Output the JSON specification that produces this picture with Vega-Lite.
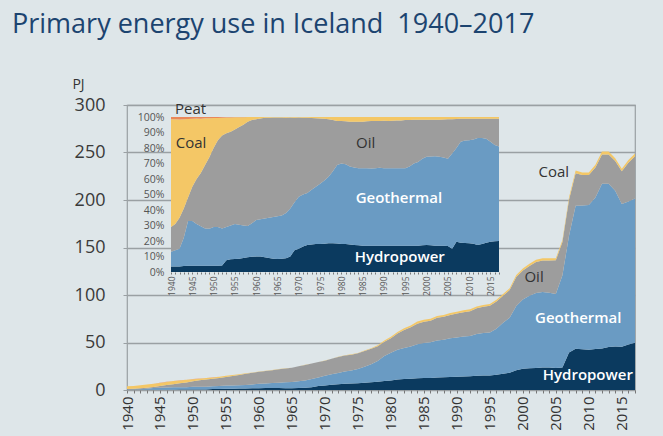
{
  "$schema": "https://vega.github.io/schema/vega-lite/v6.json",
  "width": 508,
  "height": 285,
  "autosize": {"type": "none"},
  "padding": {"left": 127, "top": 105, "right": 28, "bottom": 46},
  "background": "#dee6e9",
  "title": {
    "text": "Primary energy use in Iceland\u00a0 1940–2017",
    "anchor": "start",
    "frame": "group",
    "dx": -115,
    "dy": -13,
    "baseline": "alphabetic",
    "font": "Open Sans",
    "fontSize": 27,
    "fontWeight": "normal",
    "color": "#1c4470"
  },
  "config": {
    "font": "Open Sans",
    "view": {"stroke": "#9aa0a3", "strokeWidth": 1.2}
  },
  "datasets": {
    "ranks": [
      {"source": "Hydropower", "rank": 1},
      {"source": "Geothermal", "rank": 2},
      {"source": "Oil", "rank": 3},
      {"source": "Coal", "rank": 4},
      {"source": "Peat", "rank": 5}
    ],
    "energy": [
      {"year":1940,"Hydropower":0.14,"Geothermal":0.38,"Oil":0.64,"Coal":2.78,"Peat":0.06},
      {"year":1941,"Hydropower":0.15,"Geothermal":0.45,"Oil":0.73,"Coal":2.90,"Peat":0.06},
      {"year":1942,"Hydropower":0.18,"Geothermal":0.57,"Oil":1.0,"Coal":3.18,"Peat":0.08},
      {"year":1943,"Hydropower":0.22,"Geothermal":1.06,"Oil":1.10,"Coal":3.34,"Peat":0.08},
      {"year":1944,"Hydropower":0.27,"Geothermal":1.94,"Oil":1.01,"Coal":3.40,"Peat":0.09},
      {"year":1945,"Hydropower":0.30,"Geothermal":2.20,"Oil":1.67,"Coal":3.33,"Peat":0.09},
      {"year":1946,"Hydropower":0.34,"Geothermal":2.32,"Oil":2.49,"Coal":3.35,"Peat":0.09},
      {"year":1947,"Hydropower":0.38,"Geothermal":2.42,"Oil":3.28,"Coal":3.33,"Peat":0.10},
      {"year":1948,"Hydropower":0.41,"Geothermal":2.45,"Oil":4.18,"Coal":3.07,"Peat":0.09},
      {"year":1949,"Hydropower":0.43,"Geothermal":2.59,"Oil":4.97,"Coal":2.72,"Peat":0.09},
      {"year":1950,"Hydropower":0.46,"Geothermal":2.88,"Oil":5.87,"Coal":2.22,"Peat":0.08},
      {"year":1951,"Hydropower":0.48,"Geothermal":3.0,"Oil":6.72,"Coal":1.73,"Peat":0.07},
      {"year":1952,"Hydropower":0.53,"Geothermal":3.0,"Oil":7.56,"Coal":1.45,"Peat":0.06},
      {"year":1953,"Hydropower":1.0,"Geothermal":2.86,"Oil":8.05,"Coal":1.34,"Peat":0.05},
      {"year":1954,"Hydropower":1.15,"Geothermal":3.05,"Oil":8.47,"Coal":1.29,"Peat":0.04},
      {"year":1955,"Hydropower":1.26,"Geothermal":3.39,"Oil":9.15,"Coal":1.17,"Peat":0.03},
      {"year":1956,"Hydropower":1.34,"Geothermal":3.48,"Oil":9.95,"Coal":1.01,"Peat":0.02},
      {"year":1957,"Hydropower":1.49,"Geothermal":3.49,"Oil":10.79,"Coal":0.81,"Peat":0.02},
      {"year":1958,"Hydropower":1.66,"Geothermal":3.54,"Oil":11.78,"Coal":0.53,"Peat":0},
      {"year":1959,"Hydropower":1.81,"Geothermal":4.01,"Oil":12.30,"Coal":0.37,"Peat":0},
      {"year":1960,"Hydropower":1.95,"Geothermal":4.58,"Oil":12.68,"Coal":0.29,"Peat":0},
      {"year":1961,"Hydropower":2.02,"Geothermal":4.85,"Oil":13.13,"Coal":0.20,"Peat":0},
      {"year":1962,"Hydropower":2.0,"Geothermal":5.25,"Oil":13.65,"Coal":0.11,"Peat":0},
      {"year":1963,"Hydropower":1.98,"Geothermal":5.72,"Oil":14.21,"Coal":0.09,"Peat":0},
      {"year":1964,"Hydropower":1.94,"Geothermal":6.16,"Oil":14.61,"Coal":0.09,"Peat":0},
      {"year":1965,"Hydropower":1.97,"Geothermal":6.49,"Oil":14.95,"Coal":0.09,"Peat":0},
      {"year":1966,"Hydropower":2.13,"Geothermal":7.0,"Oil":15.78,"Coal":0.10,"Peat":0},
      {"year":1967,"Hydropower":2.33,"Geothermal":7.74,"Oil":16.32,"Coal":0.11,"Peat":0},
      {"year":1968,"Hydropower":2.8,"Geothermal":8.68,"Oil":16.41,"Coal":0.11,"Peat":0},
      {"year":1969,"Hydropower":4.13,"Geothermal":9.15,"Oil":16.11,"Coal":0.12,"Peat":0},
      {"year":1970,"Hydropower":4.65,"Geothermal":10.42,"Oil":15.81,"Coal":0.12,"Peat":0},
      {"year":1971,"Hydropower":5.45,"Geothermal":11.06,"Oil":16.34,"Coal":0.17,"Peat":0},
      {"year":1972,"Hydropower":6.09,"Geothermal":11.76,"Oil":16.98,"Coal":0.18,"Peat":0},
      {"year":1973,"Hydropower":6.50,"Geothermal":12.85,"Oil":16.90,"Coal":0.26,"Peat":0},
      {"year":1974,"Hydropower":6.75,"Geothermal":13.88,"Oil":16.58,"Coal":0.30,"Peat":0},
      {"year":1975,"Hydropower":7.02,"Geothermal":15.21,"Oil":16.38,"Coal":0.39,"Peat":0},
      {"year":1976,"Hydropower":7.59,"Geothermal":16.89,"Oil":16.52,"Coal":0.50,"Peat":0},
      {"year":1977,"Hydropower":8.14,"Geothermal":18.92,"Oil":16.28,"Coal":0.66,"Peat":0},
      {"year":1978,"Hydropower":8.70,"Geothermal":21.86,"Oil":15.51,"Coal":0.94,"Peat":0},
      {"year":1979,"Hydropower":9.52,"Geothermal":26.36,"Oil":14.82,"Coal":1.30,"Peat":0},
      {"year":1980,"Hydropower":10.08,"Geothermal":29.12,"Oil":15.40,"Coal":1.40,"Peat":0},
      {"year":1981,"Hydropower":10.98,"Geothermal":31.42,"Oil":16.96,"Coal":1.65,"Peat":0},
      {"year":1982,"Hydropower":11.57,"Geothermal":32.63,"Oil":18.85,"Coal":1.95,"Peat":0},
      {"year":1983,"Hydropower":11.90,"Geothermal":34.0,"Oil":20.06,"Coal":2.04,"Peat":0},
      {"year":1984,"Hydropower":12.46,"Geothermal":35.78,"Oil":21.6,"Coal":2.16,"Peat":0},
      {"year":1985,"Hydropower":12.58,"Geothermal":37.0,"Oil":22.2,"Coal":2.22,"Peat":0},
      {"year":1986,"Hydropower":12.75,"Geothermal":37.5,"Oil":22.73,"Coal":2.03,"Peat":0},
      {"year":1987,"Hydropower":13.26,"Geothermal":38.84,"Oil":23.95,"Coal":1.95,"Peat":0},
      {"year":1988,"Hydropower":13.43,"Geothermal":39.5,"Oil":24.10,"Coal":1.98,"Peat":0},
      {"year":1989,"Hydropower":13.77,"Geothermal":40.74,"Oil":24.46,"Coal":2.03,"Peat":0},
      {"year":1990,"Hydropower":14.03,"Geothermal":41.25,"Oil":25.16,"Coal":2.06,"Peat":0},
      {"year":1991,"Hydropower":14.28,"Geothermal":42.0,"Oil":25.62,"Coal":2.10,"Peat":0},
      {"year":1992,"Hydropower":14.45,"Geothermal":42.5,"Oil":26.01,"Coal":2.04,"Peat":0},
      {"year":1993,"Hydropower":14.96,"Geothermal":44.0,"Oil":27.02,"Coal":2.02,"Peat":0},
      {"year":1994,"Hydropower":15.22,"Geothermal":44.75,"Oil":27.57,"Coal":1.97,"Peat":0},
      {"year":1995,"Hydropower":15.39,"Geothermal":45.25,"Oil":28.06,"Coal":1.81,"Peat":0},
      {"year":1996,"Hydropower":16.15,"Geothermal":48.45,"Oil":28.5,"Coal":1.9,"Peat":0},
      {"year":1997,"Hydropower":17.17,"Geothermal":53.53,"Oil":28.48,"Coal":1.82,"Peat":0},
      {"year":1998,"Hydropower":18.19,"Geothermal":57.78,"Oil":29.21,"Coal":1.82,"Peat":0},
      {"year":1999,"Hydropower":20.81,"Geothermal":67.52,"Oil":30.61,"Coal":2.06,"Peat":0},
      {"year":2000,"Hydropower":22.27,"Geothermal":72.96,"Oil":30.46,"Coal":2.30,"Peat":0},
      {"year":2001,"Hydropower":22.88,"Geothermal":76.21,"Oil":31.52,"Coal":2.39,"Peat":0},
      {"year":2002,"Hydropower":23.29,"Geothermal":78.91,"Oil":32.47,"Coal":2.33,"Peat":0},
      {"year":2003,"Hydropower":23.56,"Geothermal":79.56,"Oil":33.13,"Coal":2.36,"Peat":0},
      {"year":2004,"Hydropower":23.56,"Geothermal":78.72,"Oil":34.10,"Coal":2.22,"Peat":0},
      {"year":2005,"Hydropower":23.28,"Geothermal":77.89,"Oil":35.34,"Coal":2.08,"Peat":0},
      {"year":2006,"Hydropower":23.7,"Geothermal":97.17,"Oil":34.92,"Coal":2.21,"Peat":0},
      {"year":2007,"Hydropower":39.59,"Geothermal":122.82,"Oil":37.96,"Coal":2.64,"Peat":0},
      {"year":2008,"Hydropower":43.43,"Geothermal":150.61,"Oil":34.19,"Coal":2.77,"Peat":0},
      {"year":2009,"Hydropower":42.82,"Geothermal":151.37,"Oil":32.06,"Coal":2.75,"Peat":0},
      {"year":2010,"Hydropower":42.37,"Geothermal":152.29,"Oil":31.60,"Coal":2.75,"Peat":0},
      {"year":2011,"Hydropower":43.13,"Geothermal":159.50,"Oil":31.52,"Coal":2.84,"Peat":0},
      {"year":2012,"Hydropower":43.67,"Geothermal":173.44,"Oil":30.87,"Coal":3.01,"Peat":0},
      {"year":2013,"Hydropower":45.18,"Geothermal":171.94,"Oil":30.87,"Coal":3.01,"Peat":0},
      {"year":2014,"Hydropower":45.87,"Geothermal":163.97,"Oil":31.23,"Coal":2.93,"Peat":0},
      {"year":2015,"Hydropower":45.44,"Geothermal":150.29,"Oil":34.48,"Coal":2.80,"Peat":0},
      {"year":2016,"Hydropower":47.92,"Geothermal":150.52,"Oil":40.66,"Coal":2.90,"Peat":0},
      {"year":2017,"Hydropower":49.8,"Geothermal":151.89,"Oil":44.32,"Coal":2.99,"Peat":0}
    ]
  },
  "resolve": {
    "scale": {"x": "independent", "y": "independent"},
    "axis": {"x": "independent", "y": "independent"}
  },
  "layer": [
    {
      "layer": [
        {
          "data": {"name": "energy"},
          "transform": [
            {"fold": ["Hydropower", "Geothermal", "Oil", "Coal", "Peat"], "as": ["source", "PJ"]},
            {"lookup": "source", "from": {"data": {"name": "ranks"}, "key": "source", "fields": ["rank"]}}
          ],
          "mark": {"type": "area"},
          "encoding": {
            "x": {
              "field": "year", "type": "quantitative",
              "scale": {"domain": [1940, 2017], "nice": false, "zero": false},
              "axis": {
                "title": null, "tickCount": 77, "format": "d",
                "labelExpr": "datum.value % 5 === 0 ? datum.label : ''",
                "labelAngle": -90, "labelFontSize": 15, "labelColor": "#333333",
                "labelPadding": 3, "labelOverlap": false, "labelFlush": false,
                "tickSize": 3, "tickColor": "#777777", "domain": false, "grid": false
              }
            },
            "y": {
              "field": "PJ", "type": "quantitative", "stack": "zero",
              "scale": {"domain": [0, 300], "nice": false},
              "axis": {
                "title": "PJ", "titleAngle": 0, "titleX": -49, "titleY": -17,
                "titleAlign": "center", "titleBaseline": "alphabetic",
                "titleFontSize": 14, "titleFontWeight": "normal", "titleColor": "#333333",
                "values": [0, 50, 100, 150, 200, 250, 300],
                "labelFontSize": 18, "labelColor": "#3a3a3a", "labelPadding": 18,
                "labelOverlap": false,
                "tickSize": 4, "tickColor": "#9aa0a3", "domain": false,
                "grid": true, "gridColor": "#9aa0a3", "gridWidth": 1.3
              }
            },
            "color": {
              "field": "source", "type": "nominal", "legend": null,
              "scale": {
                "domain": ["Hydropower", "Geothermal", "Oil", "Coal", "Peat"],
                "range": ["#0b3a5f", "#6a9bc3", "#9d9d9d", "#f4c766", "#e9875a"]
              }
            },
            "order": {"field": "rank", "type": "quantitative"}
          }
        },
        {
          "data": {"values": [
            {"year": 2008.4, "PJ": 76, "label": "Geothermal"},
            {"year": 2009.85, "PJ": 15.8, "label": "Hydropower"}
          ]},
          "mark": {"type": "text", "color": "#ffffff", "fontSize": 15, "fontWeight": 600, "align": "center", "baseline": "middle"},
          "encoding": {
            "x": {"field": "year", "type": "quantitative", "scale": {"domain": [1940, 2017], "nice": false, "zero": false}},
            "y": {"field": "PJ", "type": "quantitative", "scale": {"domain": [0, 300], "nice": false}},
            "text": {"field": "label", "type": "nominal"}
          }
        },
        {
          "data": {"values": [
            {"year": 2001.7, "PJ": 119.3, "label": "Oil"},
            {"year": 2004.7, "PJ": 229.5, "label": "Coal"}
          ]},
          "mark": {"type": "text", "color": "#333333", "fontSize": 15, "fontWeight": 500, "align": "center", "baseline": "middle"},
          "encoding": {
            "x": {"field": "year", "type": "quantitative", "scale": {"domain": [1940, 2017], "nice": false, "zero": false}},
            "y": {"field": "PJ", "type": "quantitative", "scale": {"domain": [0, 300], "nice": false}},
            "text": {"field": "label", "type": "nominal"}
          }
        }
      ]
    },
    {
      "layer": [
        {
          "data": {"name": "energy"},
          "transform": [
            {"fold": ["Hydropower", "Geothermal", "Oil", "Coal", "Peat"], "as": ["source", "PJ"]},
            {"lookup": "source", "from": {"data": {"name": "ranks"}, "key": "source", "fields": ["rank"]}}
          ],
          "mark": {"type": "area"},
          "encoding": {
            "x": {
              "field": "year", "type": "quantitative",
              "scale": {"domain": [1940, 2017], "nice": false, "zero": false, "range": [44, 372]},
              "axis": {
                "orient": "bottom", "offset": -118,
                "title": null, "tickCount": 77, "format": "d",
                "labelExpr": "datum.value % 5 === 0 ? datum.label : ''",
                "labelAngle": -90, "labelFontSize": 8.5, "labelColor": "#555555",
                "labelPadding": 2, "labelOverlap": false, "labelFlush": false,
                "tickSize": 2, "tickColor": "#777777", "domain": false, "grid": false
              }
            },
            "y": {
              "field": "PJ", "type": "quantitative", "stack": "normalize",
              "scale": {"domain": [0, 1], "nice": false, "range": [167, 12]},
              "axis": {
                "orient": "left", "offset": -44, "title": null,
                "values": [0, 0.1, 0.2, 0.3, 0.4, 0.5, 0.6, 0.7, 0.8, 0.9, 1],
                "format": ".0%", "labelFontSize": 10.5, "labelColor": "#555555",
                "labelPadding": 7, "labelOverlap": false,
                "ticks": false, "domain": false, "grid": false
              }
            },
            "color": {
              "field": "source", "type": "nominal", "legend": null,
              "scale": {
                "domain": ["Hydropower", "Geothermal", "Oil", "Coal", "Peat"],
                "range": ["#0b3a5f", "#6a9bc3", "#9d9d9d", "#f4c766", "#e9875a"]
              }
            },
            "order": {"field": "rank", "type": "quantitative"}
          }
        },
        {
          "data": {"values": [
            {"year": 1993.5, "PJ": 0.477, "label": "Geothermal"},
            {"year": 1993.7, "PJ": 0.094, "label": "Hydropower"}
          ]},
          "mark": {"type": "text", "color": "#ffffff", "fontSize": 15, "fontWeight": 600, "align": "center", "baseline": "middle"},
          "encoding": {
            "x": {
              "field": "year", "type": "quantitative",
              "scale": {"domain": [1940, 2017], "nice": false, "zero": false, "range": [44, 372]},
              "axis": {
                "orient": "bottom", "offset": -118,
                "title": null, "tickCount": 77, "format": "d",
                "labelExpr": "datum.value % 5 === 0 ? datum.label : ''",
                "labelAngle": -90, "labelFontSize": 8.5, "labelColor": "#555555",
                "labelPadding": 2, "labelOverlap": false, "labelFlush": false,
                "tickSize": 2, "tickColor": "#777777", "domain": false, "grid": false
              }
            },
            "y": {
              "field": "PJ", "type": "quantitative",
              "scale": {"domain": [0, 1], "nice": false, "range": [167, 12]},
              "axis": {
                "orient": "left", "offset": -44, "title": null,
                "values": [0, 0.1, 0.2, 0.3, 0.4, 0.5, 0.6, 0.7, 0.8, 0.9, 1],
                "format": ".0%", "labelFontSize": 10.5, "labelColor": "#555555",
                "labelPadding": 7, "labelOverlap": false,
                "ticks": false, "domain": false, "grid": false
              }
            },
            "text": {"field": "label", "type": "nominal"}
          }
        },
        {
          "data": {"values": [
            {"year": 1985.7, "PJ": 0.832, "label": "Oil"},
            {"year": 1944.7, "PJ": 0.832, "label": "Coal"},
            {"year": 1944.6, "PJ": 1.052, "label": "Peat"}
          ]},
          "mark": {"type": "text", "color": "#333333", "fontSize": 15, "fontWeight": 500, "align": "center", "baseline": "middle"},
          "encoding": {
            "x": {
              "field": "year", "type": "quantitative",
              "scale": {"domain": [1940, 2017], "nice": false, "zero": false, "range": [44, 372]},
              "axis": {
                "orient": "bottom", "offset": -118,
                "title": null, "tickCount": 77, "format": "d",
                "labelExpr": "datum.value % 5 === 0 ? datum.label : ''",
                "labelAngle": -90, "labelFontSize": 8.5, "labelColor": "#555555",
                "labelPadding": 2, "labelOverlap": false, "labelFlush": false,
                "tickSize": 2, "tickColor": "#777777", "domain": false, "grid": false
              }
            },
            "y": {
              "field": "PJ", "type": "quantitative",
              "scale": {"domain": [0, 1], "nice": false, "range": [167, 12]},
              "axis": {
                "orient": "left", "offset": -44, "title": null,
                "values": [0, 0.1, 0.2, 0.3, 0.4, 0.5, 0.6, 0.7, 0.8, 0.9, 1],
                "format": ".0%", "labelFontSize": 10.5, "labelColor": "#555555",
                "labelPadding": 7, "labelOverlap": false,
                "ticks": false, "domain": false, "grid": false
              }
            },
            "text": {"field": "label", "type": "nominal"}
          }
        }
      ]
    }
  ]
}
